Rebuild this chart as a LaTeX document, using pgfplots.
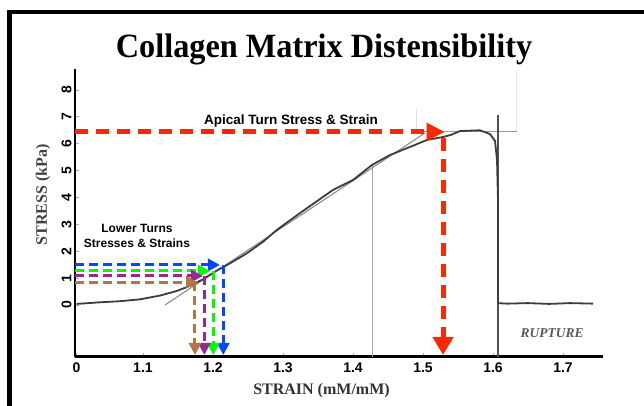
\documentclass[border=0pt]{standalone}
\usepackage{pgfplots}
\pgfplotsset{compat=1.18}
\usetikzlibrary{arrows.meta}
\usepackage{fontspec}
\setmainfont{Liberation Serif}
\setsansfont{Liberation Sans}

\definecolor{arrred}{RGB}{255,38,0}
\definecolor{arrblue}{RGB}{0,72,255}
\definecolor{arrgreen}{RGB}{0,250,0}
\definecolor{arrpurple}{RGB}{150,40,150}
\definecolor{arrbrown}{RGB}{176,120,64}
\definecolor{curve}{RGB}{60,60,60}

\begin{document}
\begin{tikzpicture}
\path[use as bounding box] (0,0) rectangle (644pt,406pt);

% frame of the pasted figure
\draw[line width=4.4pt] (9.5pt,-5pt) -- (9.5pt,394pt) -- (650pt,394pt);

% title
\node[font=\bfseries\fontsize{34}{34}\selectfont, xscale=0.95, anchor=base] at (324pt,348pt) {Collagen Matrix Distensibility};

\begin{axis}[
    at={(75pt,49pt)}, anchor=south west,
    scale only axis,
    width=528pt, height=288pt,
    xmin=1.0029, xmax=1.7571,
    ymin=-1.935, ymax=8.78,
    axis lines=left,
    axis line style={-, black},
    x axis line style={line width=3pt},
    y axis line style={line width=2.5pt},
    xtick={1.005,1.1,1.2,1.3,1.4,1.5,1.6,1.7},
    xticklabels={0,1.1,1.2,1.3,1.4,1.5,1.6,1.7},
    ytick={0,1,...,8},
    tick align=inside,
    major tick length=4pt,
    tick style={gray!70, line width=0.8pt},
    /pgf/number format/assume math mode=true,
    ticklabel style={font=\sffamily\bfseries\fontsize{14}{14}\selectfont},
    yticklabel style={rotate=90, anchor=south, xshift=0pt},
    xticklabel style={yshift=-2pt},
    clip=false,
]

% faint frame lines of the scanned plot
\addplot[gray!25, line width=0.8pt] coordinates {(1.491,6.44) (1.491,7.3)};
\addplot[gray!20, line width=0.8pt] coordinates {(1.634,6.44) (1.634,8.7)};

% thin vertical marker
\addplot[gray!70, line width=0.8pt] coordinates {(1.4271,5.2) (1.4271,-1.935)};

% crosshair at the peak
\addplot[gray!80, line width=1.2pt] coordinates {(1.491,6.44) (1.634,6.44)};
\addplot[curve!90, line width=2pt] coordinates {(1.607,7.07) (1.607,-1.935)};

% linear fit line
\addplot[gray!90, line width=1.1pt] coordinates {(1.1314,0) (1.5029,6.40)};

% stress-strain curve
\addplot[curve, line width=1.8pt] coordinates {
(1.0053,0.04) (1.0386,0.10) (1.0671,0.14) (1.0957,0.21) (1.1243,0.35)
(1.1481,0.52) (1.1671,0.71) (1.1861,0.96) (1.2053,1.28) (1.2243,1.55)
(1.2481,1.92) (1.2719,2.36) (1.2910,2.79) (1.3243,3.42) (1.3714,4.28)
(1.4000,4.65) (1.4271,5.21) (1.4529,5.58) (1.4814,5.88) (1.5057,6.14)
(1.5286,6.25) (1.5400,6.33) (1.5529,6.47) (1.5814,6.50) (1.5957,6.36)
(1.6029,6.10) (1.6057,5.40) (1.6071,3.90) (1.6071,0.07)
(1.6200,0.05) (1.6500,0.07) (1.6800,0.04) (1.7100,0.07) (1.7430,0.05)
};

% apical turn arrows
\addplot[arrred, line width=5pt, dash pattern=on 13pt off 8pt,
  -{Triangle[length=18pt,width=17pt]}] coordinates {(1.0029,6.44) (1.531,6.44)};
\addplot[arrred, line width=5pt, dash pattern=on 13pt off 8pt,
  -{Triangle[length=18pt,width=20pt]}] coordinates {(1.5286,6.2) (1.5286,-1.86)};

% lower turns arrows
\addplot[arrblue, line width=3pt, dash pattern=on 9pt off 5pt,
  -{Triangle[length=12pt,width=12pt]}] coordinates {(1.0029,1.49) (1.210,1.49)};
\addplot[arrblue, line width=3pt, dash pattern=on 9pt off 5pt,
  -{Triangle[length=12pt,width=12pt]}] coordinates {(1.2147,1.49) (1.2147,-1.86)};
\addplot[arrgreen, line width=3pt, dash pattern=on 9pt off 5pt,
  -{Triangle[length=12pt,width=12pt]}] coordinates {(1.0029,1.265) (1.1957,1.265)};
\addplot[arrgreen, line width=3pt, dash pattern=on 9pt off 5pt,
  -{Triangle[length=12pt,width=12pt]}] coordinates {(1.2004,1.265) (1.2004,-1.86)};
\addplot[arrpurple, line width=3pt, dash pattern=on 9pt off 5pt,
  -{Triangle[length=12pt,width=12pt]}] coordinates {(1.0029,1.08) (1.1857,1.08)};
\addplot[arrpurple, line width=3pt, dash pattern=on 9pt off 5pt,
  -{Triangle[length=12pt,width=12pt]}] coordinates {(1.1876,1.08) (1.1876,-1.86)};
\addplot[arrbrown, line width=3pt, dash pattern=on 9pt off 5pt,
  -{Triangle[length=12pt,width=12pt]}] coordinates {(1.0029,0.845) (1.1786,0.845)};
\addplot[arrbrown, line width=3pt, dash pattern=on 9pt off 5pt,
  -{Triangle[length=12pt,width=12pt]}] coordinates {(1.1743,0.845) (1.1743,-1.86)};

% annotations
\node[font=\sffamily\bfseries\fontsize{13.5}{14}\selectfont] at (axis cs:1.3114,6.85) {Apical Turn Stress \& Strain};
\node[font=\sffamily\bfseries\fontsize{12}{14.5}\selectfont, align=center] at (axis cs:1.0914,2.57) {Lower Turns\\Stresses \& Strains};
\node[font=\bfseries\itshape\fontsize{13.5}{14}\selectfont, text=black!65] at (axis cs:1.6843,-1.04) {RUPTURE};

\end{axis}

% axis labels
\node[font=\bfseries\fontsize{16}{16}\selectfont, text=black!80] at (321.5pt,15pt) {STRAIN (mM/mM)};
\node[font=\bfseries\fontsize{16}{16}\selectfont, text=black!75, rotate=90] at (43pt,211pt) {STRESS (kPa)};
\end{tikzpicture}
\end{document}
